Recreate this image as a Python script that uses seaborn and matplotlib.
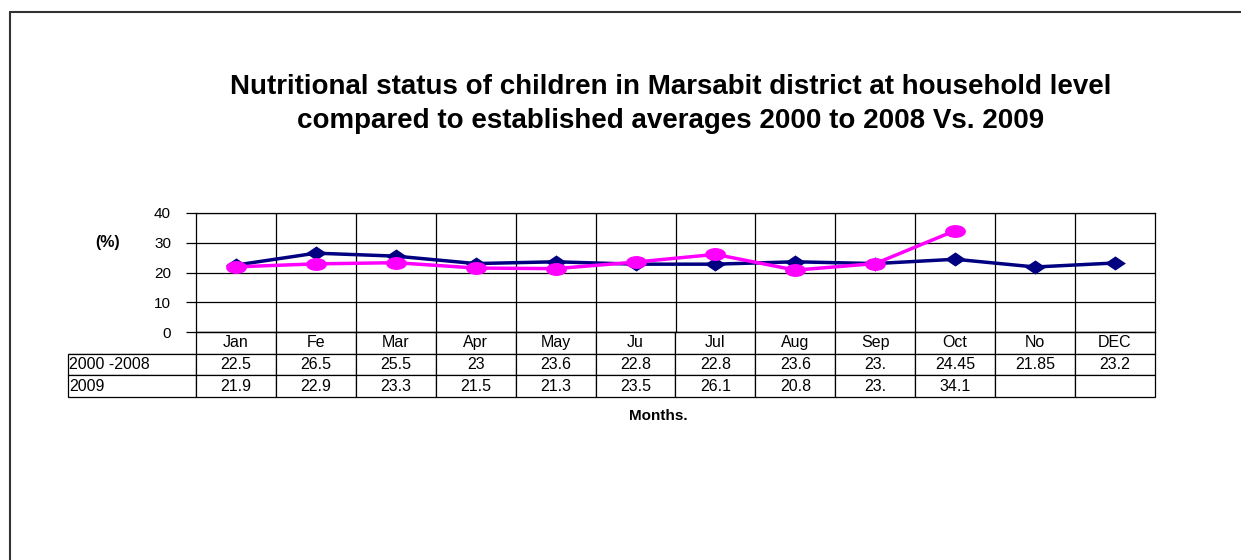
import numpy as np
import pandas as pd
import matplotlib
matplotlib.use("Agg")
import matplotlib.pyplot as plt
from matplotlib.path import Path
from matplotlib.lines import Line2D
import seaborn as sns

# data
months = ["Jan", "Fe", "Mar", "Apr", "May", "Ju", "Jul", "Aug", "Sep", "Oct", "No", "DEC"]
avg_label = "2000 -2008"
y09_label = "2009"
avg_vals = [22.5, 26.5, 25.5, 23, 23.6, 22.8, 22.8, 23.6, 23.0, 24.45, 21.85, 23.2]
y09_vals = [21.9, 22.9, 23.3, 21.5, 21.3, 23.5, 26.1, 20.8, 23.0, 34.1, np.nan, np.nan]
avg_text = ["22.5", "26.5", "25.5", "23", "23.6", "22.8", "22.8", "23.6", "23.", "24.45", "21.85", "23.2"]
y09_text = ["21.9", "22.9", "23.3", "21.5", "21.3", "23.5", "26.1", "20.8", "23.", "34.1", "", ""]

sns.set_style("white")
plt.rcParams["font.family"] = ["Liberation Sans", "DejaVu Sans"]
plt.rcParams["text.color"] = "black"
plt.rcParams["ytick.color"] = "black"

df = pd.DataFrame({
    "pos": list(range(12)) * 2,
    "value": avg_vals + y09_vals,
    "series": [avg_label] * 12 + [y09_label] * 12,
})

# flattened marker shapes like the excel ones
circ = Path.unit_circle()
ellipse = Path(circ.vertices * [1.0, 0.62], circ.codes)
diamond = Path([(0, 0.68), (1, 0), (0, -0.68), (-1, 0), (0, 0.68)],
               [Path.MOVETO, Path.LINETO, Path.LINETO, Path.LINETO, Path.CLOSEPOLY])

fig = plt.figure(figsize=(12.41, 5.6), dpi=100)
ax = fig.add_axes([196 / 1241, 1 - 332 / 560, 959 / 1241, 119 / 560])

sns.lineplot(data=df, x="pos", y="value", hue="series", style="series",
             palette={avg_label: "#000080", y09_label: "#FF00FF"},
             markers={avg_label: diamond, y09_label: ellipse},
             dashes=False, linewidth=2.5, markersize=15, markeredgewidth=0,
             legend=False, ax=ax)

ax.set_xlim(-0.5, 11.5)
ax.set_ylim(0, 40)
ax.set_yticks([0, 10, 20, 30, 40])
ax.set_xticks([])
ax.set_xticks(np.arange(0.5, 11.5, 1), minor=True)
ax.grid(True, axis="y", color="black", linewidth=0.9)
ax.grid(True, axis="x", which="minor", color="black", linewidth=0.9)
ax.tick_params(axis="x", which="minor", length=0)
ax.tick_params(axis="y", labelsize=11, length=7, width=0.9, direction="out", pad=11, left=True)
ax.set_xlabel("")
ax.set_ylabel("")
for s in ax.spines.values():
    s.set_color("black")
    s.set_linewidth(0.9)

# data table under the plot
widths = [128] + [80] * 12
widths = [w / 959 for w in widths]
cell_text = [[avg_label] + avg_text, [y09_label] + y09_text]
tbl = ax.table(cellText=cell_text, colLabels=[""] + months, colWidths=widths,
               bbox=[-128 / 959, -65 / 119, 1 + 128 / 959, 65 / 119], cellLoc="center")
tbl.auto_set_font_size(False)
tbl.set_fontsize(11.5)
for (r, c), cell in tbl.get_celld().items():
    cell.set_linewidth(0.9)
    cell.set_edgecolor("black")
    cell.get_text().set_color("black")
    if r == 0 and c == 0:
        cell.visible_edges = "B"
    if c == 0 and r > 0:
        cell.get_text().set_ha("left")
        cell.PAD = 0.01

fig.text(108 / 1241, 1 - 243 / 560, "(%)", fontsize=11.5, fontweight="bold", ha="center", va="center")
fig.text(658 / 1241, 1 - 416 / 560, "Months.", fontsize=11, fontweight="bold", ha="center", va="center")
fig.text(671 / 1241, 1 - 104 / 560,
         "Nutritional status of children in Marsabit district at household level\n"
         "compared to established averages 2000 to 2008 Vs. 2009",
         fontsize=20, fontweight="bold", ha="center", va="center", linespacing=1.35)

# chart area border (top and left visible)
fig.add_artist(Line2D([10 / 1241, 1], [1 - 12 / 560, 1 - 12 / 560], color="#333333", linewidth=1.5, transform=fig.transFigure))
fig.add_artist(Line2D([10 / 1241, 10 / 1241], [0, 1 - 12 / 560], color="#333333", linewidth=1.5, transform=fig.transFigure))

fig.savefig("out.png", dpi=100, facecolor="white")
